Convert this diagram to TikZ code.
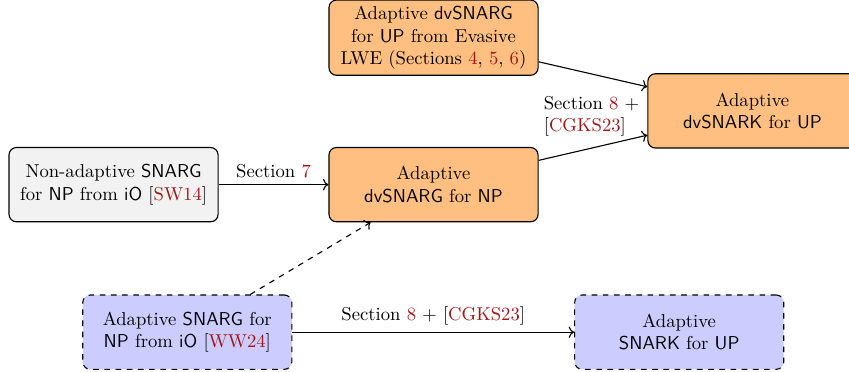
\documentclass[tikz,border=0pt]{standalone}
\usepackage{amsmath,amssymb}
\usepackage{xcolor}
\usepackage{tikz}
\usetikzlibrary{arrows.meta,positioning,calc}

\definecolor{citered}{rgb}{0.63,0.09,0.09}
\newcommand{\cref}[1]{\textcolor{citered}{#1}}

\begin{document}
\begin{tikzpicture}[
  box/.style={draw, rounded corners, semithick, minimum width=3.94cm, minimum height=1.4cm,
              align=center},
  arrow/.style={->, semithick},
  note/.style={font=\normalsize}
]
\useasboundingbox (0,0) rectangle (16,7.01);
\node[box, fill=orange!50] (EV) at (8.17,6.30) {Adaptive \textsf{dvSNARG}\\for \textsf{UP} from Evasive\\LWE (Sections \cref{4}, \cref{5}, \cref{6})};
\node[box, fill=orange!50] (DVK) at (14.18,4.92) {Adaptive\\\textsf{dvSNARK} for \textsf{UP}};
\node[box, fill=gray!10] (NA) at (2.14,3.53) {Non-adaptive \textsf{SNARG}\\for \textsf{NP} from \textsf{iO} [\cref{SW14}]};
\node[box, fill=orange!50] (DVG) at (8.17,3.53) {Adaptive\\\textsf{dvSNARG} for \textsf{NP}};
\node[box, dashed, fill=blue!20] (WW) at (3.53,0.75) {Adaptive \textsf{SNARG} for\\\textsf{NP} from \textsf{iO} [\cref{WW24}]};
\node[box, dashed, fill=blue!20] (SK) at (12.80,0.75) {Adaptive\\\textsf{SNARK} for \textsf{UP}};
\node[note, align=left, left=0.03cm of DVK.west, yshift=-0.1cm] (S8) {Section \cref{8} +\\{}[\cref{CGKS23}]};
\draw[arrow] (EV) -- (DVK);
\draw[arrow] (DVG) -- (DVK);
\draw[arrow] (NA) -- (DVG) node[midway, above, note] {Section \cref{7}};
\draw[arrow, dashed] (WW) -- (DVG);
\draw[arrow] (WW) -- (SK) node[midway, above, note] {Section \cref{8} + [\cref{CGKS23}]};
\end{tikzpicture}
\end{document}
